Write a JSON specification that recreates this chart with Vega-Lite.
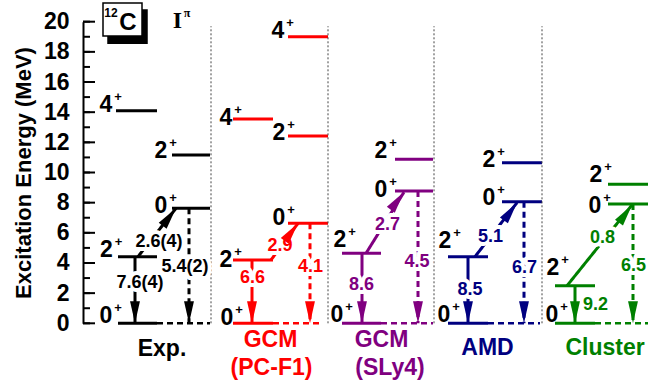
{
  "$schema": "https://vega.github.io/schema/vega-lite/v6.json",
  "width": 565,
  "height": 301.6,
  "autosize": {"type": "none"},
  "padding": {"left": 83, "top": 21.7, "right": 0, "bottom": 66.7},
  "background": "white",
  "config": {"view": {"stroke": null}, "font": "Liberation Sans"},
  "resolve": {"axis": {"x": "independent", "y": "independent"}},
  "datasets": {
    "levels": [
      {"m": "Exp", "x": 118, "x2": 157, "E": 0},
      {"m": "Exp", "x": 118, "x2": 157, "E": 4.42},
      {"m": "Exp", "x": 116, "x2": 157, "E": 14.1},
      {"m": "Exp", "x": 172, "x2": 210, "E": 7.63},
      {"m": "Exp", "x": 172, "x2": 210, "E": 11.16},
      {"m": "PC", "x": 233, "x2": 273, "E": 0},
      {"m": "PC", "x": 233, "x2": 273, "E": 4.2},
      {"m": "PC", "x": 233, "x2": 273, "E": 13.55},
      {"m": "PC", "x": 288, "x2": 328, "E": 6.63},
      {"m": "PC", "x": 288, "x2": 328, "E": 12.42},
      {"m": "PC", "x": 288, "x2": 328, "E": 19.0},
      {"m": "SLy", "x": 342, "x2": 381, "E": 0},
      {"m": "SLy", "x": 342, "x2": 381, "E": 4.64},
      {"m": "SLy", "x": 395, "x2": 433, "E": 8.77},
      {"m": "SLy", "x": 395, "x2": 433, "E": 10.88},
      {"m": "AMD", "x": 448, "x2": 488, "E": 0},
      {"m": "AMD", "x": 448, "x2": 488, "E": 4.42},
      {"m": "AMD", "x": 502, "x2": 542, "E": 8.06},
      {"m": "AMD", "x": 502, "x2": 542, "E": 10.65},
      {"m": "Cl", "x": 555, "x2": 595, "E": 0},
      {"m": "Cl", "x": 555, "x2": 595, "E": 2.49},
      {"m": "Cl", "x": 608, "x2": 648, "E": 7.91},
      {"m": "Cl", "x": 608, "x2": 648, "E": 9.22}
    ],
    "ground": [
      {"m": "Exp", "x": 157, "x2": 210},
      {"m": "PC", "x": 273, "x2": 322},
      {"m": "SLy", "x": 381, "x2": 433},
      {"m": "AMD", "x": 488, "x2": 540},
      {"m": "Cl", "x": 595, "x2": 648}
    ],
    "separators": [{"x": 211}, {"x": 328}, {"x": 434}, {"x": 542}],
    "ticks": [
      {"v": 0, "kind": "major"}, {"v": 1, "kind": "minor"}, {"v": 2, "kind": "major"}, {"v": 3, "kind": "minor"},
      {"v": 4, "kind": "major"}, {"v": 5, "kind": "minor"}, {"v": 6, "kind": "major"}, {"v": 7, "kind": "minor"},
      {"v": 8, "kind": "major"}, {"v": 9, "kind": "minor"}, {"v": 10, "kind": "major"}, {"v": 11, "kind": "minor"},
      {"v": 12, "kind": "major"}, {"v": 13, "kind": "minor"}, {"v": 14, "kind": "major"}, {"v": 15, "kind": "minor"},
      {"v": 16, "kind": "major"}, {"v": 17, "kind": "minor"}, {"v": 18, "kind": "major"}, {"v": 19, "kind": "minor"},
      {"v": 20, "kind": "major"}
    ],
    "transitions": [
      {"m": "Exp", "x": 135, "E": 4.42, "x2": 135, "E2": 0, "k": "s"},
      {"m": "Exp", "x": 189, "E": 7.63, "x2": 189, "E2": 0, "k": "d"},
      {"m": "Exp", "x": 138, "E": 4.42, "x2": 176, "E2": 7.63, "k": "s"},
      {"m": "PC", "x": 252, "E": 4.2, "x2": 252, "E2": 0, "k": "s"},
      {"m": "PC", "x": 310, "E": 6.63, "x2": 310, "E2": 0, "k": "d"},
      {"m": "PC", "x": 271, "E": 4.2, "x2": 298, "E2": 6.63, "k": "s"},
      {"m": "SLy", "x": 362, "E": 4.64, "x2": 362, "E2": 0, "k": "s"},
      {"m": "SLy", "x": 418, "E": 8.77, "x2": 418, "E2": 0, "k": "d"},
      {"m": "SLy", "x": 366, "E": 4.64, "x2": 404, "E2": 8.7, "k": "s"},
      {"m": "AMD", "x": 468, "E": 4.42, "x2": 468, "E2": 0, "k": "s"},
      {"m": "AMD", "x": 524, "E": 8.06, "x2": 524, "E2": 0, "k": "d"},
      {"m": "AMD", "x": 475, "E": 4.42, "x2": 517, "E2": 8.0, "k": "s"},
      {"m": "Cl", "x": 575, "E": 2.49, "x2": 575, "E2": 0, "k": "s"},
      {"m": "Cl", "x": 633, "E": 7.91, "x2": 633, "E2": 0, "k": "d"},
      {"m": "Cl", "x": 567, "E": 2.49, "x2": 632, "E2": 7.85, "k": "s"}
    ],
    "tlabels": [
      {"m": "Exp", "x": 140, "E": 2.32, "t": "7.6(4)"},
      {"m": "Exp", "x": 159, "E": 5.08, "t": "2.6(4)"},
      {"m": "Exp", "x": 185, "E": 3.42, "t": "5.4(2)"},
      {"m": "PC", "x": 252.5, "E": 2.65, "t": "6.6"},
      {"m": "PC", "x": 280, "E": 4.78, "t": "2.9"},
      {"m": "PC", "x": 310.5, "E": 3.42, "t": "4.1"},
      {"m": "SLy", "x": 361.5, "E": 2.21, "t": "8.6"},
      {"m": "SLy", "x": 387.5, "E": 6.19, "t": "2.7"},
      {"m": "SLy", "x": 417, "E": 3.73, "t": "4.5"},
      {"m": "AMD", "x": 470, "E": 1.88, "t": "8.5"},
      {"m": "AMD", "x": 490.5, "E": 5.41, "t": "5.1"},
      {"m": "AMD", "x": 524.5, "E": 3.32, "t": "6.7"},
      {"m": "Cl", "x": 595.5, "E": 0.88, "t": "9.2"},
      {"m": "Cl", "x": 602.5, "E": 5.3, "t": "0.8"},
      {"m": "Cl", "x": 633.5, "E": 3.47, "t": "6.5"}
    ],
    "llabels": [
      {"x": 106, "E": 14.03, "J": "4"},
      {"x": 106.5, "E": 4.42, "J": "2"},
      {"x": 106, "E": 0.02, "J": "0"},
      {"x": 161, "E": 10.94, "J": "2"},
      {"x": 161, "E": 7.31, "J": "0"},
      {"x": 226, "E": 13.15, "J": "4"},
      {"x": 226, "E": 3.75, "J": "2"},
      {"x": 227, "E": -0.11, "J": "0"},
      {"x": 278, "E": 18.9, "J": "4"},
      {"x": 279, "E": 12.16, "J": "2"},
      {"x": 279, "E": 6.52, "J": "0"},
      {"x": 340, "E": 5.08, "J": "2"},
      {"x": 337, "E": 0.11, "J": "0"},
      {"x": 381, "E": 8.4, "J": "0"},
      {"x": 381, "E": 10.94, "J": "2"},
      {"x": 489, "E": 10.38, "J": "2"},
      {"x": 489, "E": 7.84, "J": "0"},
      {"x": 445, "E": 4.97, "J": "2"},
      {"x": 444, "E": 0.11, "J": "0"},
      {"x": 596, "E": 9.39, "J": "2"},
      {"x": 595, "E": 7.29, "J": "0"},
      {"x": 553, "E": 3.2, "J": "2"},
      {"x": 552, "E": 0.11, "J": "0"}
    ],
    "titles": [
      {"m": "Exp", "x": 162, "E": -2.17, "t": "Exp."},
      {"m": "PC", "x": 270.5, "E": -1.57, "t": "GCM"},
      {"m": "PC", "x": 271.5, "E": -3.43, "t": "(PC-F1)"},
      {"m": "SLy", "x": 381.5, "E": -1.57, "t": "GCM"},
      {"m": "SLy", "x": 390, "E": -3.43, "t": "(SLy4)"},
      {"m": "AMD", "x": 487.5, "E": -2.1, "t": "AMD"},
      {"m": "Cl", "x": 605, "E": -2.1, "t": "Cluster"}
    ]
  },
  "layer": [
    {
      "data": {"name": "levels"},
      "mark": {"type": "rule", "strokeWidth": 3},
      "encoding": {
        "x": {"field": "x", "type": "quantitative", "scale": {"domain": [83, 648], "nice": false, "zero": false}, "axis": null},
        "x2": {"field": "x2"},
        "y": {"field": "E", "type": "quantitative", "scale": {"domain": [0, 20], "nice": false, "zero": false},
          "axis": {
            "orient": "left",
            "values": [0, 2, 4, 6, 8, 10, 12, 14, 16, 18, 20],
            "title": "Excitation Energy (MeV)",
            "titleFontSize": 22, "titleFontWeight": "bold", "titleColor": "black", "titlePadding": 8,
            "labelFontSize": 23, "labelFontWeight": "bold", "labelColor": "black",
            "labelPadding": 14, "labelOverlap": false, "labelFlush": false, "labelBound": false,
            "domain": true, "domainColor": "black", "domainWidth": 2,
            "ticks": false, "tickSize": 0,
            "grid": false
          }},
        "color": {"field": "m", "type": "nominal", "scale": {"domain": ["Exp", "PC", "SLy", "AMD", "Cl"], "range": ["#000000", "#ff0000", "#800080", "#000080", "#008000"]}, "legend": null}
      }
    },
    {
      "data": {"name": "ticks"},
      "mark": {"type": "rule", "color": "black", "strokeWidth": 2},
      "encoding": {
        "x": {"datum": 83, "type": "quantitative", "scale": {"domain": [83, 648], "nice": false, "zero": false}, "axis": null},
        "x2": {"datum": 95},
        "y": {"field": "v", "type": "quantitative", "scale": {"domain": [0, 20], "nice": false, "zero": false}, "axis": null},
        "opacity": {"field": "kind", "type": "nominal", "scale": {"domain": ["major", "minor"], "range": [1, 0]}, "legend": null}
      }
    },
    {
      "data": {"name": "ticks"},
      "mark": {"type": "rule", "color": "black", "strokeWidth": 2},
      "encoding": {
        "x": {"datum": 83, "type": "quantitative", "scale": {"domain": [83, 648], "nice": false, "zero": false}, "axis": null},
        "x2": {"datum": 90},
        "y": {"field": "v", "type": "quantitative", "scale": {"domain": [0, 20], "nice": false, "zero": false}, "axis": null}
      }
    },
    {
      "data": {"name": "separators"},
      "mark": {"type": "rule", "color": "#444444", "strokeWidth": 1, "strokeDash": [2, 2]},
      "encoding": {
        "x": {"field": "x", "type": "quantitative", "scale": {"domain": [83, 648], "nice": false, "zero": false}, "axis": null},
        "y": {"datum": 0, "type": "quantitative", "scale": {"domain": [0, 20], "nice": false, "zero": false}, "axis": null},
        "y2": {"datum": 19.7}
      }
    },
    {
      "data": {"name": "ground"},
      "mark": {"type": "rule", "strokeWidth": 2.5, "strokeDash": [6, 4]},
      "encoding": {
        "x": {"field": "x", "type": "quantitative", "scale": {"domain": [83, 648], "nice": false, "zero": false}, "axis": null},
        "x2": {"field": "x2"},
        "y": {"datum": 0, "type": "quantitative", "scale": {"domain": [0, 20], "nice": false, "zero": false}, "axis": null},
        "color": {"field": "m", "type": "nominal", "scale": {"domain": ["Exp", "PC", "SLy", "AMD", "Cl"], "range": ["#000000", "#ff0000", "#800080", "#000080", "#008000"]}, "legend": null}
      }
    },
    {
      "data": {"name": "transitions"},
      "mark": {"type": "rule", "strokeWidth": 3},
      "encoding": {
        "x": {"field": "x", "type": "quantitative", "scale": {"domain": [83, 648], "nice": false, "zero": false}, "axis": null},
        "x2": {"field": "x2"},
        "y": {"field": "E", "type": "quantitative", "scale": {"domain": [0, 20], "nice": false, "zero": false}, "axis": null},
        "y2": {"field": "E2"},
        "strokeDash": {"field": "k", "type": "nominal", "scale": {"domain": ["s", "d"], "range": [[1, 0], [6, 4]]}, "legend": null},
        "color": {"field": "m", "type": "nominal", "scale": {"domain": ["Exp", "PC", "SLy", "AMD", "Cl"], "range": ["#000000", "#ff0000", "#800080", "#000080", "#008000"]}, "legend": null}
      }
    },
    {
      "data": {"name": "tlabels"},
      "mark": {"type": "text", "fontSize": 18, "fontWeight": "bold", "align": "center", "baseline": "alphabetic", "stroke": "white", "strokeWidth": 8, "fill": "white", "strokeJoin": "round"},
      "encoding": {
        "x": {"field": "x", "type": "quantitative", "scale": {"domain": [83, 648], "nice": false, "zero": false}, "axis": null},
        "y": {"field": "E", "type": "quantitative", "scale": {"domain": [0, 20], "nice": false, "zero": false}, "axis": null},
        "text": {"field": "t"}
      }
    },
    {
      "data": {"name": "transitions"},
      "transform": [{"filter": "datum.x === datum.x2"}],
      "mark": {"type": "point", "shape": "M0,0L-0.45,-2L0.45,-2Z", "filled": true, "size": 484, "opacity": 1, "strokeWidth": 0},
      "encoding": {
        "x": {"field": "x2", "type": "quantitative", "scale": {"domain": [83, 648], "nice": false, "zero": false}, "axis": null},
        "y": {"field": "E2", "type": "quantitative", "scale": {"domain": [0, 20], "nice": false, "zero": false}, "axis": null},
        "color": {"field": "m", "type": "nominal", "scale": {"domain": ["Exp", "PC", "SLy", "AMD", "Cl"], "range": ["#000000", "#ff0000", "#800080", "#000080", "#008000"]}, "legend": null}
      }
    },
    {
      "data": {"name": "transitions"},
      "transform": [{"filter": "datum.x !== datum.x2"}],
      "mark": {"type": "point", "shape": "M0,0L-0.45,-2L0.45,-2Z", "filled": true, "size": 484, "opacity": 1, "strokeWidth": 0},
      "encoding": {
        "x": {"field": "x2", "type": "quantitative", "scale": {"domain": [83, 648], "nice": false, "zero": false}, "axis": null},
        "y": {"field": "E2", "type": "quantitative", "scale": {"domain": [0, 20], "nice": false, "zero": false}, "axis": null},
        "angle": {"field": "m", "type": "nominal", "scale": {"domain": ["Exp", "PC", "SLy", "AMD", "Cl"], "range": [217.3, 216.3, 212.2, 217.9, 218.8]}, "legend": null},
        "color": {"field": "m", "type": "nominal", "scale": {"domain": ["Exp", "PC", "SLy", "AMD", "Cl"], "range": ["#000000", "#ff0000", "#800080", "#000080", "#008000"]}, "legend": null}
      }
    },
    {
      "data": {"name": "tlabels"},
      "mark": {"type": "text", "fontSize": 18, "fontWeight": "bold", "align": "center", "baseline": "alphabetic"},
      "encoding": {
        "x": {"field": "x", "type": "quantitative", "scale": {"domain": [83, 648], "nice": false, "zero": false}, "axis": null},
        "y": {"field": "E", "type": "quantitative", "scale": {"domain": [0, 20], "nice": false, "zero": false}, "axis": null},
        "text": {"field": "t"},
        "color": {"field": "m", "type": "nominal", "scale": {"domain": ["Exp", "PC", "SLy", "AMD", "Cl"], "range": ["#000000", "#ff0000", "#800080", "#000080", "#008000"]}, "legend": null}
      }
    },
    {
      "data": {"name": "llabels"},
      "mark": {"type": "text", "fontSize": 23, "fontWeight": "bold", "align": "center", "baseline": "alphabetic", "color": "black"},
      "encoding": {
        "x": {"field": "x", "type": "quantitative", "scale": {"domain": [83, 648], "nice": false, "zero": false}, "axis": null},
        "y": {"field": "E", "type": "quantitative", "scale": {"domain": [0, 20], "nice": false, "zero": false}, "axis": null},
        "text": {"field": "J"}
      }
    },
    {
      "data": {"name": "llabels"},
      "mark": {"type": "text", "fontSize": 13, "fontWeight": "bold", "align": "center", "baseline": "alphabetic", "color": "black", "dx": 12, "dy": -11, "text": "+"},
      "encoding": {
        "x": {"field": "x", "type": "quantitative", "scale": {"domain": [83, 648], "nice": false, "zero": false}, "axis": null},
        "y": {"field": "E", "type": "quantitative", "scale": {"domain": [0, 20], "nice": false, "zero": false}, "axis": null}
      }
    },
    {
      "data": {"name": "titles"},
      "mark": {"type": "text", "fontSize": 23, "fontWeight": "bold", "align": "center", "baseline": "alphabetic"},
      "encoding": {
        "x": {"field": "x", "type": "quantitative", "scale": {"domain": [83, 648], "nice": false, "zero": false}, "axis": null},
        "y": {"field": "E", "type": "quantitative", "scale": {"domain": [0, 20], "nice": false, "zero": false}, "axis": null},
        "text": {"field": "t"},
        "color": {"field": "m", "type": "nominal", "scale": {"domain": ["Exp", "PC", "SLy", "AMD", "Cl"], "range": ["#000000", "#ff0000", "#800080", "#000080", "#008000"]}, "legend": null}
      }
    },
    {
      "data": {"values": [{"x": 108, "x2": 147, "E": 20.78, "E2": 18.57, "f": "shadow"}, {"x": 103, "x2": 142, "E": 21.24, "E2": 19.05, "f": "box"}]},
      "mark": {"type": "rect", "stroke": "black", "strokeWidth": 1.5},
      "encoding": {
        "x": {"field": "x", "type": "quantitative", "scale": {"domain": [83, 648], "nice": false, "zero": false}, "axis": null},
        "x2": {"field": "x2"},
        "y": {"field": "E", "type": "quantitative", "scale": {"domain": [0, 20], "nice": false, "zero": false}, "axis": null},
        "y2": {"field": "E2"},
        "fill": {"field": "f", "type": "nominal", "scale": {"domain": ["shadow", "box"], "range": ["black", "white"]}, "legend": null}
      }
    },
    {
      "data": {"values": [
        {"x": 111, "E": 20.33, "t": "12", "g": "sup"},
        {"x": 128, "E": 19.45, "t": "C", "g": "main"}
      ]},
      "mark": {"type": "text", "fontWeight": "bold", "align": "center", "baseline": "alphabetic", "color": "black"},
      "encoding": {
        "x": {"field": "x", "type": "quantitative", "scale": {"domain": [83, 648], "nice": false, "zero": false}, "axis": null},
        "y": {"field": "E", "type": "quantitative", "scale": {"domain": [0, 20], "nice": false, "zero": false}, "axis": null},
        "text": {"field": "t"},
        "size": {"field": "g", "type": "nominal", "scale": {"domain": ["sup", "main"], "range": [12, 24]}, "legend": null}
      }
    },
    {
      "data": {"values": [
        {"x": 177.5, "E": 19.58, "t": "I", "g": "main"},
        {"x": 187, "E": 20.31, "t": "π", "g": "sup"}
      ]},
      "mark": {"type": "text", "font": "Liberation Serif", "fontWeight": "bold", "align": "center", "baseline": "alphabetic", "color": "black"},
      "encoding": {
        "x": {"field": "x", "type": "quantitative", "scale": {"domain": [83, 648], "nice": false, "zero": false}, "axis": null},
        "y": {"field": "E", "type": "quantitative", "scale": {"domain": [0, 20], "nice": false, "zero": false}, "axis": null},
        "text": {"field": "t"},
        "size": {"field": "g", "type": "nominal", "scale": {"domain": ["sup", "main"], "range": [13, 23]}, "legend": null}
      }
    }
  ]
}
